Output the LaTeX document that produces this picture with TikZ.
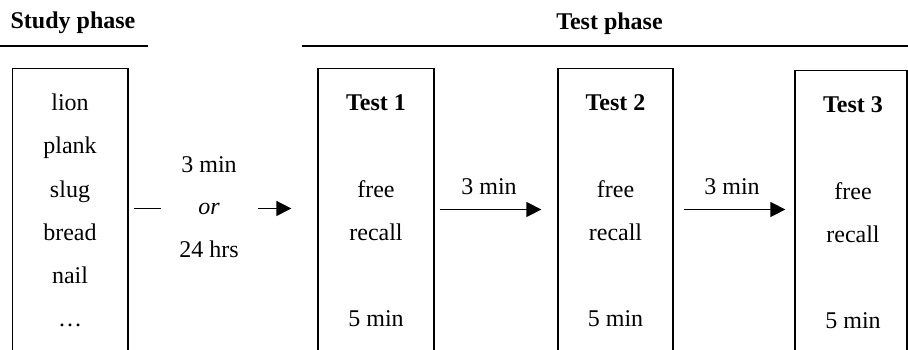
\documentclass[tikz,border=0pt]{standalone}
\usepackage{fontspec}
\setmainfont{Liberation Serif}
\usetikzlibrary{arrows.meta}
\begin{document}
\begin{tikzpicture}[x=1pt,y=-1pt,
  box/.style={draw,line width=1.3pt,minimum width=#1,minimum height=330pt,anchor=north,inner sep=0pt},
  txt/.style={anchor=base,inner sep=0pt,font=\fontsize{24}{28}\selectfont},
  hd/.style={anchor=base,inner sep=0pt,font=\fontsize{24}{28}\selectfont\bfseries},
  rule/.style={line width=1.6pt},
  conn/.style={line width=1.5pt},
  arr/.style={conn,-{Triangle[length=15pt,width=15pt]}}]
\useasboundingbox (0,0) rectangle (908,349);
\clip (0,0) rectangle (908,349);
% headings
\node[hd] (sp) at (73,28) {Study phase};
\node[hd] (tp) at (609.5,29.5) {Test phase};
\coordinate (sl1) at (0,46);
\coordinate (sl2) at (148,46);
\coordinate (tl1) at (302,46);
\coordinate (tl2) at (908,46);
\draw[rule] (sl1) -- (sl2);
\draw[rule] (tl1) -- (tl2);
% boxes
\node[box=115.5pt] (study) at (70.25,68) {};
\node[box=116pt] (t1) at (376,68) {};
\node[box=115pt] (t2) at (615.5,68) {};
\node[box=112pt] (t3) at (851,70) {};
% study words
\node[txt] (w1) at (70,110) {lion};
\node[txt] (w2) at (70,153.5) {plank};
\node[txt] (w3) at (70,197) {slug};
\node[txt] (w4) at (70,240) {bread};
\node[txt] (w5) at (70,283.5) {nail};
\node[txt] (w6) at (70,326.5) {\dots};
% delay
\node[txt] (d1) at (209,172) {3 min};
\node[txt] (d2) at (209,214) {\itshape or};
\node[txt] (d3) at (209,257) {24 hrs};
% tests
\node[hd] (h1) at (376,110) {Test 1};
\node[txt] (f1) at (376,197) {free};
\node[txt] (r1) at (376,240) {recall};
\node[txt] (m1) at (376,326.5) {5 min};
\node[hd] (h2) at (615.5,110) {Test 2};
\node[txt] (f2) at (615.5,197) {free};
\node[txt] (r2) at (615.5,240) {recall};
\node[txt] (m2) at (615.5,326.5) {5 min};
\node[hd] (h3) at (853,112) {Test 3};
\node[txt] (f3) at (853,199) {free};
\node[txt] (r3) at (853,242) {recall};
\node[txt] (m3) at (853,328) {5 min};
% connectors
\draw[conn, shorten <=5pt, shorten >=37pt] (study.east |- d2.center) -- (d2.west);
\draw[arr, shorten <=38pt, shorten >=26pt] (d2.east) -- (t1.west |- d2.center);
\coordinate (r) at (0,209.5);
\draw[arr, shorten <=5pt, shorten >=16pt] (t1.east |- r) -- (t2.west |- r);
\node[txt] (l1) at (489,194) {3 min};
\draw[arr, shorten <=10pt, shorten >=9pt] (t2.east |- r) -- (t3.west |- r);
\node[txt] (l2) at (732,194) {3 min};
\end{tikzpicture}
\end{document}
